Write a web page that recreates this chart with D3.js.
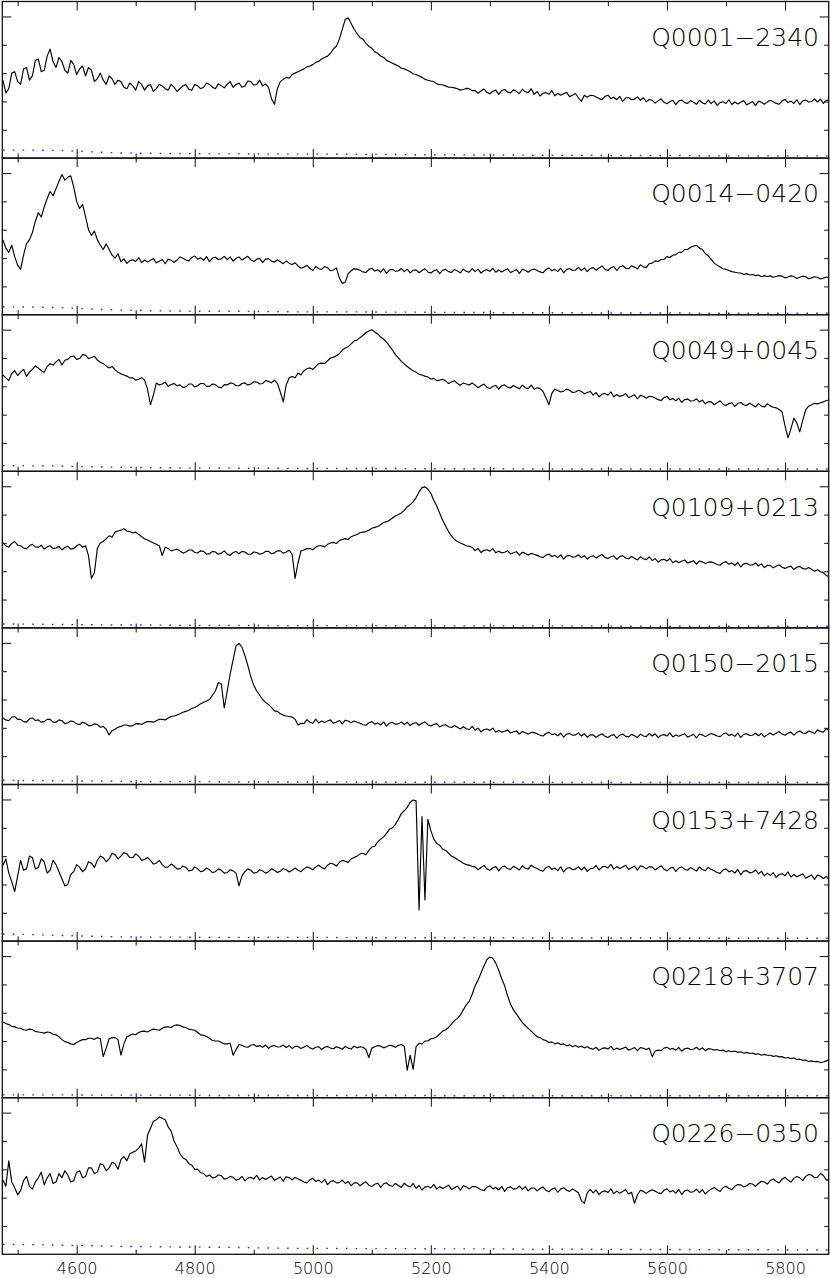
<!DOCTYPE html>
<html><head><meta charset="utf-8">
<script src="https://cdn.jsdelivr.net/npm/d3@7"></script>
<style>html,body{margin:0;padding:0;background:#fff;} svg{display:block;}</style>
</head><body>
<svg id="chart" width="830" height="1278"></svg>
<script>
// ---------------- DATA ----------------
const names = ["Q0001\u22122340","Q0014\u22120420","Q0049+0045","Q0109+0213","Q0150\u22122015","Q0153+7428","Q0218+3707","Q0226\u22120350"];
const waveStart = 4475, waveStep = 5;      // flux sampling grid (Å)
const errStart = 4475, errStep = 50;       // error sampling grid (Å)
const xTickMajor = [4600,4800,5000,5200,5400,5600,5800];
const xTickMinor = [4500,4700,4900,5100,5300,5500,5700];
const yTickMinor = [1,2,3,4];
const yTickMajor = [5];

const flux1 = [
2.75,2.3,2.45,3.0,3.05,2.7,2.6,3.15,3.2,2.75,2.9,3.45,3.5,3.05,3.1,3.6,3.85,3.4,3.2,3.55,
3.4,3.1,3.0,3.45,3.3,2.95,3.15,3.25,2.9,3.2,3.1,2.7,2.8,3.0,2.75,2.6,2.9,2.8,2.6,2.75,
2.7,2.5,2.45,2.65,2.55,2.4,2.7,2.6,2.4,2.55,2.6,2.35,2.45,2.6,2.55,2.45,2.4,2.6,2.5,2.35,
2.45,2.55,2.6,2.42,2.4,2.6,2.55,2.45,2.5,2.65,2.6,2.5,2.45,2.62,2.55,2.48,2.6,2.7,2.5,2.6,
2.65,2.5,2.55,2.72,2.7,2.58,2.6,2.75,2.55,2.62,2.5,2.1,1.9,2.45,2.7,2.78,2.85,2.82,2.95,3.0,
3.05,3.1,3.15,3.22,3.25,3.3,3.38,3.42,3.5,3.55,3.6,3.7,3.85,3.95,4.2,4.55,4.9,4.95,4.75,4.55,
4.4,4.25,4.2,4.05,3.95,3.88,3.75,3.7,3.6,3.55,3.45,3.4,3.35,3.3,3.25,3.17,3.15,3.1,3.05,2.98,
2.95,2.9,2.85,2.78,2.75,2.72,2.7,2.62,2.6,2.58,2.55,2.5,2.5,2.48,2.45,2.4,2.42,2.46,2.45,2.38,
2.39,2.29,2.37,2.44,2.32,2.27,2.36,2.4,2.25,2.38,2.42,2.33,2.3,2.41,2.35,2.28,2.43,2.34,2.31,2.45,
2.25,2.35,2.19,2.29,2.31,2.25,2.38,2.2,2.29,2.22,2.27,2.32,2.17,2.22,2.28,2.13,2.0,2.22,2.15,2.22,
2.21,2.16,2.1,2.06,2.18,2.22,2.1,2.15,2.06,2.18,2.0,2.12,2.14,2.06,2.08,2.16,2.04,2.13,1.99,2.07,
2.04,1.94,2.02,2.09,1.97,1.92,2.0,2.04,1.89,2.02,2.05,1.96,1.93,2.03,1.97,1.9,2.04,1.95,1.91,2.05,
1.92,2.02,1.86,1.96,1.99,1.93,2.06,1.89,1.98,1.91,1.97,2.03,1.88,1.94,2.0,1.85,2.01,1.97,1.9,1.98,
2.04,1.99,1.93,1.9,2.02,2.07,1.96,2.01,1.93,2.06,1.89,2.02,2.05,1.98,2.0,2.09,1.98,2.08,1.93,2.04,2.05];
const flux2 = [
2.64,2.35,2.2,2.45,2.05,1.75,1.6,2.1,2.5,2.65,2.9,3.3,3.6,3.45,3.8,4.1,4.35,4.2,4.45,4.7,
4.95,4.75,4.85,4.9,4.5,4.0,3.75,3.9,3.45,3.0,2.8,2.95,2.65,2.45,2.3,2.5,2.3,2.1,2.0,2.15,
1.87,1.97,1.81,1.91,1.94,1.88,2.01,1.84,1.93,1.86,1.92,1.98,1.83,1.89,1.95,1.8,1.96,1.92,1.85,1.93,
2.04,1.99,1.93,1.9,2.02,2.07,1.96,2.01,1.92,2.05,1.87,2.0,2.03,1.95,1.97,2.06,1.94,2.04,1.89,1.99,
2.04,1.93,2.0,2.06,1.94,1.88,1.96,1.99,1.84,1.96,1.98,1.89,1.85,1.94,1.87,1.8,1.9,1.81,1.77,1.83,
1.72,1.64,1.68,1.74,1.64,1.56,1.7,1.62,1.6,1.7,1.66,1.55,1.58,1.65,1.3,1.1,1.15,1.45,1.55,1.62,
1.61,1.57,1.51,1.49,1.6,1.64,1.54,1.59,1.5,1.62,1.46,1.58,1.6,1.53,1.55,1.63,1.52,1.61,1.48,1.57,
1.58,1.48,1.56,1.62,1.51,1.47,1.55,1.59,1.45,1.57,1.6,1.52,1.49,1.6,1.54,1.48,1.61,1.53,1.5,1.63,
1.52,1.61,1.47,1.56,1.59,1.53,1.64,1.5,1.58,1.51,1.57,1.62,1.49,1.54,1.59,1.46,1.6,1.57,1.5,1.58,
1.61,1.56,1.51,1.48,1.6,1.65,1.55,1.6,1.53,1.64,1.48,1.6,1.63,1.56,1.58,1.67,1.56,1.65,1.52,1.63,
1.66,1.57,1.65,1.72,1.6,1.56,1.66,1.7,1.56,1.69,1.73,1.64,1.62,1.73,1.68,1.62,1.76,1.69,1.66,1.8,
1.82,1.9,1.88,1.95,1.95,2.05,2.02,2.1,2.12,2.2,2.2,2.3,2.3,2.38,2.42,2.45,2.35,2.3,2.15,2.08,
1.95,1.82,1.75,1.68,1.62,1.6,1.56,1.52,1.5,1.48,1.47,1.42,1.45,1.4,1.42,1.38,1.4,1.34,1.38,1.35,
1.37,1.32,1.35,1.38,1.36,1.3,1.33,1.37,1.35,1.28,1.32,1.36,1.34,1.27,1.3,1.34,1.32,1.26,1.29,1.33,1.3];
const flux3 = [
3.4,3.3,3.2,3.45,3.55,3.38,3.5,3.6,3.35,3.5,3.6,3.72,3.65,3.55,3.5,3.7,3.8,3.75,3.86,3.95,
3.75,3.92,3.95,4.05,4.07,3.95,3.98,4.12,4.1,3.98,4.02,4.06,3.93,3.85,3.8,3.72,3.65,3.7,3.58,3.5,
3.44,3.4,3.36,3.3,3.3,3.22,3.25,3.3,3.22,2.9,2.35,2.7,3.12,3.05,3.08,3.15,3.0,3.06,3.1,3.02,
3.05,2.96,2.98,3.08,3.08,2.98,3.02,3.1,3.1,3.0,3.0,3.08,3.06,2.97,2.95,3.06,3.05,3.12,3.1,3.02,
3.02,3.1,3.12,3.05,3.08,3.16,3.15,3.08,3.1,3.2,3.18,3.12,3.22,3.1,2.8,2.45,3.05,3.3,3.35,3.3,
3.47,3.4,3.55,3.62,3.65,3.6,3.7,3.8,3.82,3.8,3.9,4.0,4.03,4.08,4.15,4.28,4.35,4.4,4.5,4.6,
4.63,4.72,4.8,4.9,4.95,5.0,4.92,4.85,4.74,4.66,4.56,4.42,4.28,4.12,4.0,3.88,3.79,3.7,3.62,3.55,
3.5,3.42,3.4,3.36,3.33,3.26,3.28,3.2,3.22,3.25,3.19,3.1,3.15,3.2,3.1,3.04,3.12,3.08,3.05,3.12,
3.04,2.95,3.02,3.08,2.97,2.92,3.0,3.03,2.9,3.02,3.05,2.97,2.94,3.03,2.97,2.91,3.04,2.95,2.92,3.04,
2.9,2.95,2.92,2.82,2.6,2.35,2.75,2.9,2.85,2.8,2.83,2.9,2.86,2.78,2.8,2.86,2.82,2.74,2.78,2.82,
2.69,2.78,2.63,2.72,2.75,2.69,2.8,2.63,2.71,2.64,2.68,2.74,2.6,2.65,2.7,2.56,2.68,2.65,2.58,2.65,
2.63,2.59,2.53,2.5,2.6,2.64,2.53,2.57,2.49,2.58,2.43,2.53,2.55,2.48,2.49,2.56,2.45,2.51,2.38,2.46,
2.45,2.35,2.42,2.49,2.37,2.32,2.39,2.42,2.29,2.4,2.43,2.35,2.32,2.4,2.34,2.27,2.39,2.3,2.27,2.38,
2.31,2.26,2.24,2.18,2.1,1.6,1.18,1.5,1.88,1.7,1.39,1.8,2.17,2.3,2.35,2.4,2.38,2.42,2.45,2.5,2.52];
const flux4 = [
3.0,2.9,2.85,2.98,3.05,2.92,2.9,2.82,2.8,2.9,2.95,2.86,2.85,2.92,2.78,2.86,2.9,2.8,2.82,2.88,
2.75,2.84,2.88,2.78,2.8,2.9,2.95,2.85,2.9,2.55,1.75,1.95,2.8,3.0,3.05,3.15,3.25,3.2,3.38,3.42,
3.45,3.5,3.42,3.4,3.35,3.38,3.3,3.22,3.15,3.1,3.05,3.0,2.95,2.9,2.55,2.85,2.8,2.72,2.75,2.78,
2.72,2.64,2.68,2.75,2.75,2.66,2.65,2.72,2.7,2.6,2.62,2.7,2.68,2.6,2.64,2.72,2.6,2.56,2.66,2.7,
2.62,2.7,2.68,2.6,2.6,2.68,2.66,2.6,2.63,2.7,2.7,2.62,2.65,2.72,2.72,2.64,2.68,2.74,2.6,1.75,
2.3,2.72,2.75,2.8,2.8,2.76,2.85,2.9,2.9,2.86,2.95,3.0,3.02,2.98,3.08,3.12,3.15,3.12,3.22,3.26,
3.3,3.36,3.38,3.4,3.45,3.52,3.55,3.58,3.65,3.72,3.75,3.8,3.88,3.95,4.0,4.06,4.15,4.28,4.35,4.45,
4.6,4.8,4.95,4.98,4.9,4.75,4.5,4.3,4.05,3.8,3.6,3.4,3.25,3.12,3.05,3.0,2.95,2.9,2.88,2.84,
2.73,2.8,2.66,2.74,2.76,2.71,2.8,2.65,2.71,2.65,2.67,2.72,2.61,2.65,2.69,2.57,2.67,2.63,2.57,2.63,
2.6,2.56,2.51,2.48,2.57,2.61,2.52,2.56,2.48,2.58,2.43,2.54,2.56,2.5,2.51,2.58,2.48,2.55,2.43,2.51,
2.55,2.47,2.54,2.59,2.49,2.45,2.51,2.54,2.42,2.52,2.55,2.47,2.44,2.52,2.46,2.4,2.51,2.44,2.41,2.51,
2.38,2.45,2.32,2.4,2.42,2.36,2.45,2.3,2.37,2.3,2.35,2.4,2.29,2.33,2.37,2.25,2.36,2.33,2.27,2.32,
2.33,2.29,2.24,2.21,2.3,2.34,2.25,2.29,2.21,2.31,2.15,2.26,2.28,2.22,2.22,2.29,2.19,2.26,2.13,2.21,
2.2,2.12,2.18,2.23,2.14,2.1,2.15,2.18,2.06,2.14,2.17,2.1,2.07,2.13,2.07,2.0,2.05,1.98,1.95,1.85,1.8];
const flux5 = [
2.35,2.28,2.25,2.38,2.4,2.3,2.3,2.22,2.2,2.32,2.35,2.26,2.28,2.2,2.22,2.3,2.3,2.2,2.2,2.28,
2.25,2.15,2.18,2.24,2.22,2.14,2.12,2.2,2.15,2.08,2.08,2.14,2.12,2.02,2.05,1.95,1.75,1.9,1.95,2.02,
2.05,2.1,2.1,2.06,2.08,2.14,2.15,2.12,2.18,2.22,2.22,2.2,2.25,2.3,2.3,2.28,2.35,2.4,2.42,2.45,
2.5,2.55,2.58,2.62,2.68,2.72,2.78,2.85,2.9,2.95,3.0,3.15,3.3,3.6,3.55,2.7,3.3,3.9,4.4,4.9,
4.98,4.85,4.55,4.2,3.8,3.5,3.3,3.15,3.0,2.9,2.82,2.72,2.6,2.58,2.5,2.45,2.42,2.4,2.38,2.3,
2.1,2.16,2.15,2.29,2.2,2.16,2.31,2.17,2.24,2.19,2.24,2.28,2.16,2.21,2.26,2.14,2.27,2.24,2.18,2.24,
2.2,2.16,2.11,2.09,2.18,2.22,2.13,2.17,2.1,2.21,2.06,2.17,2.19,2.13,2.14,2.21,2.12,2.2,2.08,2.16,
2.18,2.09,2.16,2.21,2.11,2.07,2.12,2.15,2.03,2.09,2.11,2.04,2.01,2.08,2.02,1.96,2.04,1.97,1.94,2.05,
1.92,1.99,1.86,1.94,1.96,1.91,1.99,1.85,1.91,1.85,1.88,1.92,1.82,1.86,1.89,1.78,1.87,1.83,1.78,1.84,
1.83,1.79,1.74,1.71,1.8,1.84,1.76,1.79,1.72,1.81,1.67,1.78,1.8,1.74,1.75,1.82,1.71,1.79,1.67,1.75,
1.75,1.67,1.74,1.79,1.7,1.66,1.73,1.76,1.64,1.74,1.78,1.7,1.68,1.77,1.72,1.66,1.78,1.71,1.69,1.8,
1.71,1.79,1.66,1.74,1.76,1.71,1.82,1.68,1.75,1.7,1.75,1.79,1.67,1.72,1.77,1.65,1.78,1.75,1.69,1.75,
1.8,1.76,1.71,1.69,1.78,1.82,1.73,1.77,1.7,1.81,1.66,1.77,1.79,1.73,1.74,1.81,1.72,1.8,1.68,1.76,
1.82,1.75,1.81,1.87,1.78,1.74,1.81,1.85,1.74,1.84,1.89,1.82,1.8,1.89,1.85,1.8,1.93,1.87,1.85,1.97,1.9];
const flux6 = [
2.68,2.9,2.4,2.1,1.75,2.3,2.85,2.5,2.55,3.0,2.95,2.55,2.6,2.9,2.8,2.4,2.5,2.85,2.7,2.45,
2.2,1.95,2.0,2.35,2.45,2.7,2.6,2.45,2.55,2.8,2.75,2.6,2.85,3.0,2.95,2.8,2.9,3.1,3.05,2.9,
3.0,3.12,3.08,2.95,2.95,3.08,3.0,2.85,2.88,2.95,2.85,2.72,2.75,2.85,2.7,2.6,2.62,2.72,2.65,2.55,
2.55,2.65,2.6,2.48,2.5,2.62,2.55,2.45,2.48,2.58,2.52,2.42,2.45,2.55,2.5,2.4,2.42,2.52,2.48,2.4,
1.95,2.3,2.45,2.55,2.5,2.4,2.42,2.52,2.48,2.4,2.45,2.55,2.5,2.42,2.47,2.56,2.52,2.44,2.5,2.58,
2.5,2.45,2.55,2.62,2.58,2.52,2.62,2.68,2.6,2.55,2.68,2.75,2.72,2.65,2.78,2.85,2.82,2.78,2.9,2.95,
3.0,3.08,3.1,3.05,3.2,3.32,3.35,3.5,3.6,3.68,3.8,3.95,4.0,4.12,4.3,4.5,4.6,4.72,4.9,4.98,
4.95,1.1,4.4,1.45,4.3,3.9,3.6,3.45,3.38,3.25,3.2,3.1,3.0,2.95,2.88,2.82,2.75,2.7,2.68,2.64,
2.62,2.52,2.6,2.67,2.55,2.5,2.59,2.63,2.48,2.61,2.65,2.56,2.53,2.64,2.58,2.51,2.66,2.57,2.54,2.68,
2.61,2.56,2.5,2.47,2.59,2.64,2.53,2.58,2.49,2.62,2.44,2.57,2.6,2.52,2.54,2.63,2.51,2.61,2.46,2.56,
2.57,2.67,2.51,2.61,2.64,2.58,2.71,2.54,2.63,2.56,2.62,2.68,2.53,2.59,2.65,2.5,2.66,2.62,2.55,2.63,
2.61,2.51,2.59,2.66,2.54,2.48,2.57,2.61,2.46,2.58,2.62,2.53,2.5,2.6,2.54,2.47,2.62,2.52,2.49,2.6,
2.53,2.48,2.42,2.39,2.51,2.55,2.44,2.49,2.4,2.53,2.34,2.47,2.49,2.41,2.43,2.51,2.38,2.46,2.3,2.4,
2.32,2.42,2.25,2.35,2.38,2.31,2.44,2.26,2.35,2.27,2.32,2.38,2.22,2.28,2.33,2.18,2.33,2.29,2.21,2.28,2.15];
const flux7 = [
2.67,2.62,2.58,2.52,2.5,2.46,2.45,2.4,2.38,2.42,2.4,2.34,2.32,2.3,2.28,2.32,2.3,2.24,2.22,2.15,
2.05,1.98,1.95,1.9,1.88,1.95,2.0,2.05,2.05,2.1,2.1,2.06,2.12,2.08,1.45,1.75,2.08,2.12,2.12,2.05,
1.5,1.9,2.15,2.2,2.25,2.22,2.3,2.34,2.35,2.32,2.38,2.42,2.4,2.38,2.45,2.5,2.5,2.48,2.55,2.57,
2.55,2.5,2.48,2.42,2.4,2.38,2.3,2.22,2.2,2.16,2.1,2.02,2.0,2.0,1.95,1.9,1.9,1.92,1.5,1.7,
1.88,1.85,1.8,1.78,1.85,1.88,1.81,1.84,1.78,1.86,1.74,1.82,1.84,1.79,1.8,1.86,1.77,1.83,1.74,1.81,
1.81,1.74,1.79,1.84,1.76,1.72,1.78,1.8,1.7,1.78,1.81,1.75,1.73,1.8,1.76,1.71,1.81,1.75,1.72,1.82,
1.76,1.8,1.78,1.7,1.42,1.75,1.8,1.84,1.82,1.76,1.8,1.85,1.83,1.78,1.85,1.88,1.82,0.97,1.5,1.0,
1.8,1.92,1.9,2.0,2.0,2.08,2.1,2.15,2.25,2.35,2.4,2.48,2.6,2.72,2.8,2.92,3.1,3.28,3.4,3.65,
3.95,4.15,4.4,4.65,4.88,4.97,4.92,4.75,4.5,4.2,3.95,3.6,3.3,3.1,2.95,2.8,2.65,2.55,2.45,2.35,
2.25,2.15,2.12,2.05,2.02,1.95,1.97,1.9,1.94,1.88,1.9,1.83,1.87,1.8,1.84,1.78,1.82,1.76,1.8,1.74,
1.71,1.78,1.67,1.74,1.76,1.72,1.81,1.69,1.75,1.7,1.74,1.79,1.68,1.72,1.77,1.66,1.77,1.74,1.7,1.75,
1.45,1.65,1.68,1.66,1.75,1.78,1.71,1.74,1.68,1.77,1.64,1.73,1.75,1.7,1.71,1.78,1.69,1.76,1.66,1.73,
1.72,1.68,1.7,1.66,1.68,1.62,1.66,1.62,1.65,1.6,1.62,1.57,1.6,1.56,1.58,1.53,1.55,1.5,1.53,1.5,
1.5,1.46,1.48,1.44,1.45,1.4,1.42,1.38,1.4,1.35,1.36,1.32,1.33,1.28,1.3,1.27,1.28,1.24,1.26,1.3,1.35];
const flux8 = [
2.62,2.4,3.3,2.55,2.35,2.1,2.25,2.6,2.75,2.4,2.3,2.55,2.7,2.9,2.45,2.7,2.85,2.5,2.55,2.85,
2.7,2.95,2.8,2.55,2.6,2.9,2.95,2.7,2.75,3.05,3.05,2.85,2.9,3.2,3.15,2.95,3.05,3.25,3.2,3.0,
3.35,3.45,3.3,3.55,3.6,3.65,3.75,3.9,3.25,4.2,4.45,4.7,4.75,4.85,4.8,4.75,4.5,4.35,4.0,3.8,
3.55,3.4,3.35,3.2,3.15,3.0,3.0,2.88,2.85,2.75,2.8,2.7,2.72,2.8,2.78,2.65,2.68,2.75,2.72,2.62,
2.65,2.75,2.59,2.69,2.72,2.66,2.79,2.62,2.71,2.64,2.7,2.76,2.61,2.67,2.73,2.58,2.74,2.7,2.63,2.71,
2.66,2.61,2.55,2.52,2.63,2.68,2.57,2.62,2.53,2.65,2.46,2.57,2.6,2.52,2.53,2.62,2.5,2.57,2.42,2.52,
2.52,2.42,2.5,2.56,2.44,2.39,2.47,2.51,2.36,2.49,2.52,2.43,2.4,2.5,2.43,2.36,2.51,2.42,2.38,2.5,
2.33,2.43,2.27,2.37,2.4,2.34,2.47,2.3,2.39,2.32,2.38,2.44,2.29,2.35,2.41,2.26,2.42,2.38,2.31,2.39,
2.39,2.34,2.28,2.25,2.37,2.42,2.31,2.36,2.27,2.4,2.22,2.35,2.38,2.3,2.32,2.41,2.29,2.39,2.24,2.34,
2.34,2.24,2.32,2.38,2.26,2.21,2.3,2.34,2.19,2.31,2.35,2.26,2.22,2.31,2.24,2.17,1.9,1.8,2.17,2.29,
2.17,2.27,2.11,2.21,2.24,2.18,2.31,2.14,2.23,2.16,2.22,2.28,2.13,2.19,1.8,2.1,2.26,2.22,2.15,2.23,
2.28,2.23,2.17,2.14,2.26,2.31,2.2,2.25,2.16,2.29,2.11,2.24,2.27,2.19,2.21,2.3,2.18,2.28,2.13,2.23,
2.3,2.36,2.28,2.22,2.35,2.4,2.32,2.28,2.4,2.46,2.45,2.38,2.42,2.5,2.48,2.4,2.5,2.58,2.55,2.48,
2.6,2.66,2.58,2.52,2.65,2.72,2.62,2.55,2.68,2.75,2.7,2.6,2.75,2.82,2.8,2.7,2.72,2.85,2.78,2.62,2.65];

const err1 = [0.28,0.28,0.27,0.22,0.18,0.17,0.16,0.15,0.15,0.14,0.14,0.14,0.13,0.13,0.12,0.12,0.11,0.11,0.1,0.1,0.1,0.09,0.09,0.09,0.08,0.08,0.08,0.08,0.08];
const err2 = [0.28,0.27,0.25,0.2,0.16,0.14,0.13,0.12,0.12,0.11,0.1,0.1,0.1,0.09,0.09,0.08,0.08,0.07,0.07,0.07,0.06,0.06,0.06,0.06,0.05,0.05,0.05,0.05,0.05];
const err3 = [0.2,0.19,0.18,0.16,0.14,0.13,0.12,0.12,0.11,0.11,0.1,0.1,0.1,0.1,0.09,0.09,0.09,0.09,0.08,0.08,0.08,0.08,0.08,0.08,0.08,0.08,0.08,0.08,0.08];
const err4 = [0.14,0.13,0.12,0.11,0.1,0.1,0.09,0.09,0.09,0.08,0.08,0.08,0.08,0.08,0.07,0.07,0.07,0.07,0.07,0.07,0.07,0.06,0.06,0.06,0.06,0.06,0.06,0.06,0.06];
const err5 = [0.15,0.14,0.13,0.12,0.11,0.1,0.1,0.1,0.09,0.09,0.09,0.09,0.08,0.08,0.08,0.08,0.08,0.08,0.08,0.07,0.07,0.07,0.07,0.07,0.07,0.07,0.07,0.07,0.07];
const err6 = [0.25,0.23,0.2,0.17,0.15,0.14,0.14,0.13,0.13,0.13,0.13,0.13,0.12,0.12,0.12,0.12,0.12,0.12,0.11,0.11,0.11,0.11,0.11,0.1,0.1,0.1,0.1,0.1,0.1];
const err7 = [0.1,0.1,0.1,0.09,0.09,0.09,0.09,0.08,0.08,0.08,0.08,0.08,0.08,0.08,0.08,0.07,0.07,0.07,0.07,0.07,0.07,0.07,0.07,0.07,0.07,0.07,0.07,0.07,0.07];
const err8 = [0.35,0.34,0.32,0.3,0.28,0.27,0.26,0.25,0.24,0.22,0.21,0.21,0.2,0.2,0.2,0.19,0.19,0.19,0.18,0.18,0.18,0.17,0.17,0.17,0.16,0.16,0.16,0.15,0.15];

const fluxes = [flux1,flux2,flux3,flux4,flux5,flux6,flux7,flux8];
const errs = [err1,err2,err3,err4,err5,err6,err7,err8];

// ---------------- LAYOUT ----------------
const svg = d3.select("#chart");
const plotLeft = 2.3, plotRight = 828.7, plotTop = 1.5, plotBottom = 1254.3;
const nP = names.length;
const panelH = (plotBottom - plotTop) / nP;
const fontFam = "'DejaVu Sans', 'Liberation Sans', sans-serif";

const x = d3.scaleLinear().domain([4474, 5874]).range([plotLeft, plotRight]);

svg.append("rect").attr("width",830).attr("height",1278).attr("fill","#fff");
const defs = svg.append("defs");

fluxes.forEach((flux, i) => {
  const top = plotTop + i*panelH, bottom = top + panelH;
  const y = d3.scaleLinear().domain([0, 5.528]).range([bottom, top]);
  const g = svg.append("g");

  defs.append("clipPath").attr("id","clip"+i).append("rect")
    .attr("x",plotLeft).attr("y",top).attr("width",plotRight-plotLeft).attr("height",panelH);

  const pts = flux.map((f,k) => [waveStart + k*waveStep, f]);
  const epts = errs[i].map((e,k) => [errStart + k*errStep, e]);

  // error spectrum (blue dotted)
  g.append("path").datum(epts)
    .attr("clip-path","url(#clip"+i+")")
    .attr("fill","none").attr("stroke","#2a2aff").attr("stroke-width",1.4)
    .attr("stroke-dasharray","1.6,8.2")
    .attr("d", d3.line().x(d=>x(d[0])).y(d=>y(d[1])));

  // flux spectrum
  g.append("path").datum(pts)
    .attr("clip-path","url(#clip"+i+")")
    .attr("fill","none").attr("stroke","#000").attr("stroke-width",1.15)
    .attr("stroke-linejoin","round")
    .attr("d", d3.line().x(d=>x(d[0])).y(d=>y(d[1])));

  // ticks
  const mk = (axisFn, pos, vals, size, scale, horiz) => {
    const a = g.append("g")
      .attr("transform", horiz ? `translate(0,${pos})` : `translate(${pos},0)`)
      .call(axisFn(scale).tickValues(vals).tickSize(size).tickFormat(""));
    a.select(".domain").remove();
    a.selectAll(".tick line").attr("stroke","#222").attr("stroke-width",1.1);
  };
  mk(d3.axisTop, top, xTickMajor, -9, x, true);
  mk(d3.axisTop, top, xTickMinor, -4.5, x, true);
  mk(d3.axisBottom, bottom, xTickMajor, -9, x, true);
  mk(d3.axisBottom, bottom, xTickMinor, -4.5, x, true);
  mk(d3.axisLeft, plotLeft, yTickMajor, -9, y, false);
  mk(d3.axisLeft, plotLeft, yTickMinor, -4.5, y, false);
  mk(d3.axisRight, plotRight, yTickMajor, -9, y, false);
  mk(d3.axisRight, plotRight, yTickMinor, -4.5, y, false);

  // frame
  g.append("rect").attr("x",plotLeft).attr("y",top).attr("width",plotRight-plotLeft).attr("height",panelH)
    .attr("fill","none").attr("stroke","#111").attr("stroke-width",1.3);

  // name label
  g.append("text").attr("x",819).attr("y",top+44.3).attr("text-anchor","end")
    .attr("font-family",fontFam).attr("font-weight",200).attr("font-size",25).attr("fill","#000")
    .text(names[i]);
});

// bottom labels
const ax = svg.append("g").attr("transform",`translate(0,${plotBottom})`)
  .call(d3.axisBottom(x).tickValues(xTickMajor).tickSize(0).tickPadding(8).tickFormat(d3.format("d")));
ax.select(".domain").remove();
ax.selectAll("text").attr("font-family",fontFam).attr("font-weight",200).attr("font-size",16).attr("fill","#000");
</script>
</body></html>
